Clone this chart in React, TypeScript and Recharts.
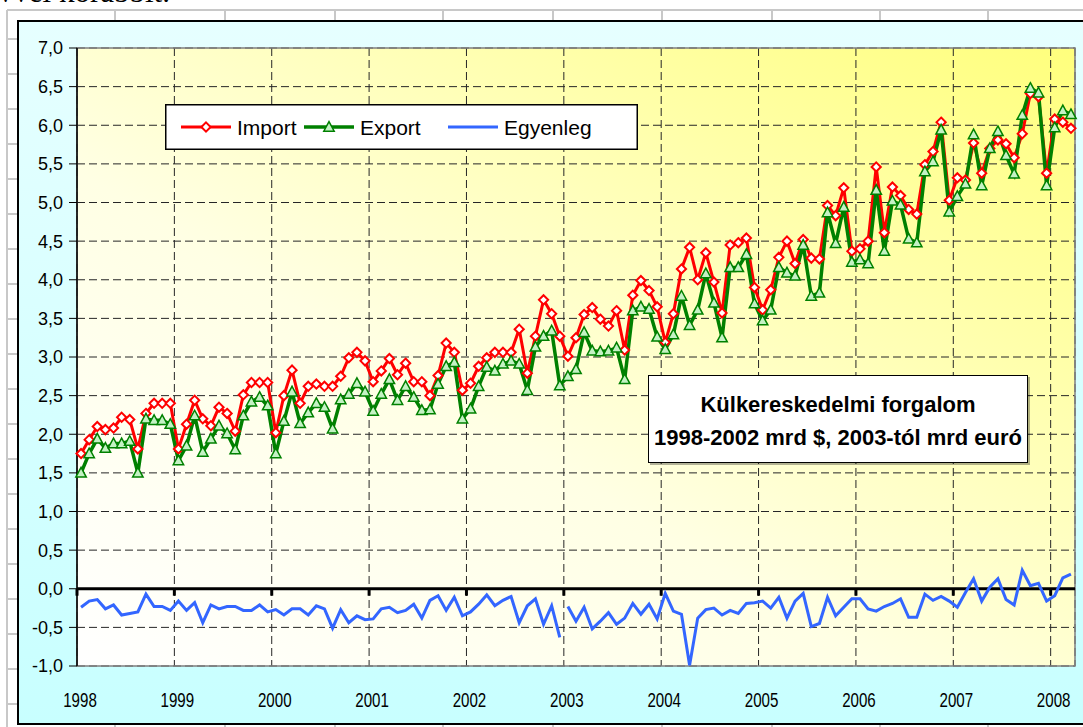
import React from 'react';
import {
  LineChart,
  Line,
  XAxis,
  YAxis,
  CartesianGrid,
  ReferenceLine,
  ReferenceArea,
  Legend,
} from 'recharts';

// ---------- data (monthly, Jan 1998 - Mar 2008) ----------
const yearLabels = ['1998', '1999', '2000', '2001', '2002', '2003', '2004', '2005', '2006', '2007', '2008'];

const importVals = [
  1.75, 1.93, 2.10, 2.06, 2.08, 2.22, 2.19, 1.81, 2.27, 2.40, 2.40, 2.40,
  1.81, 2.13, 2.44, 2.20, 2.11, 2.35, 2.27, 2.04, 2.51, 2.67, 2.67, 2.67,
  2.02, 2.50, 2.83, 2.40, 2.62, 2.65, 2.62, 2.62, 2.75, 2.99, 3.06, 2.95,
  2.68, 2.82, 2.98, 2.77, 2.92, 2.68, 2.68, 2.50, 2.76, 3.18, 3.06, 2.57,
  2.66, 2.88, 2.99, 3.06, 3.06, 3.06, 3.36, 2.79, 3.27, 3.74, 3.56, 3.27,
  3.01, 3.25, 3.55, 3.64, 3.49, 3.40, 3.60, 3.09, 3.80, 3.99, 3.86, 3.65,
  3.19, 3.56, 4.14, 4.42, 4.00, 4.35, 3.97, 3.57, 4.45, 4.48, 4.54, 3.90,
  3.61, 3.87, 4.29, 4.50, 4.21, 4.52, 4.28, 4.27, 4.96, 4.83, 5.19, 4.37,
  4.40, 4.50, 5.46, 4.61, 5.20, 5.09, 4.91, 4.85, 5.49, 5.66, 6.04, 5.03,
  5.32, 5.29, 5.77, 5.38, 5.70, 5.81, 5.76, 5.58, 5.89, 6.41, 6.37, 5.38,
  6.08, 6.04, 5.96,
];

const exportVals = [
  1.50, 1.75, 1.94, 1.82, 1.88, 1.88, 1.91, 1.50, 2.20, 2.18, 2.18, 2.13,
  1.66, 1.85, 2.24, 1.77, 1.94, 2.11, 2.01, 1.80, 2.24, 2.42, 2.48, 2.37,
  1.75, 2.17, 2.55, 2.14, 2.28, 2.40, 2.35, 2.07, 2.45, 2.52, 2.66, 2.55,
  2.30, 2.52, 2.71, 2.44, 2.62, 2.48, 2.31, 2.32, 2.65, 2.88, 2.93, 2.20,
  2.33, 2.62, 2.87, 2.82, 2.91, 2.95, 2.91, 2.57, 3.13, 3.27, 3.34, 2.63,
  2.75, 2.84, 3.32, 3.08, 3.07, 3.08, 3.12, 2.71, 3.60, 3.65, 3.62, 3.26,
  3.10, 3.29, 3.79, 3.41, 3.61, 4.08, 3.70, 3.25, 4.16, 4.16, 4.33, 3.69,
  3.47, 3.61, 4.16, 4.09, 4.05, 4.45, 3.79, 3.83, 4.87, 4.47, 4.94, 4.23,
  4.26, 4.21, 5.16, 4.37, 5.02, 4.97, 4.53, 4.48, 5.40, 5.53, 5.94, 4.88,
  5.08, 5.24, 5.88, 5.22, 5.70, 5.92, 5.61, 5.37, 6.13, 6.48, 6.42, 5.22,
  5.97, 6.19, 6.14,
];

const balanceVals = [
  -0.24, -0.16, -0.14, -0.26, -0.21, -0.34, -0.32, -0.30, -0.07, -0.23, -0.23, -0.28,
  -0.16, -0.28, -0.18, -0.44, -0.21, -0.26, -0.23, -0.23, -0.28, -0.28, -0.21, -0.30,
  -0.27, -0.34, -0.26, -0.26, -0.34, -0.22, -0.26, -0.51, -0.27, -0.44, -0.35, -0.40,
  -0.39, -0.26, -0.24, -0.31, -0.28, -0.20, -0.38, -0.15, -0.09, -0.28, -0.11, -0.35,
  -0.30, -0.20, -0.08, -0.22, -0.15, -0.10, -0.44, -0.22, -0.13, -0.46, -0.22, -0.63,
  -0.23, -0.42, -0.24, -0.52, -0.42, -0.31, -0.46, -0.38, -0.19, -0.33, -0.20, -0.39,
  -0.06, -0.29, -0.33, -0.99, -0.38, -0.27, -0.25, -0.34, -0.28, -0.32, -0.19, -0.18,
  -0.16, -0.25, -0.11, -0.38, -0.16, -0.06, -0.49, -0.45, -0.11, -0.35, -0.24, -0.13,
  -0.13, -0.26, -0.29, -0.23, -0.19, -0.13, -0.37, -0.37, -0.07, -0.15, -0.10, -0.16,
  -0.24, -0.05, 0.13, -0.16, 0.02, 0.13, -0.14, -0.21, 0.24, 0.04, 0.07, -0.16,
  -0.09, 0.14, 0.19,
];

// the balance series restarts in Jan 2003 (currency change $ -> euro)
const BREAK_INDEX = 60;
const MONTHS = importVals.length + 0;

const yTicks = [-1, -0.5, 0, 0.5, 1, 1.5, 2, 2.5, 3, 3.5, 4, 4.5, 5, 5.5, 6, 6.5, 7];
const xTicks = yearLabels.map((_, k) => k * 12);

const data = importVals.map((v, i) => ({
  x: i + 0.5,
  imp: v,
  exp: exportVals[i],
  egyA: i < BREAK_INDEX ? balanceVals[i] : null,
  egyB: i >= BREAK_INDEX ? balanceVals[i] : null,
}));

const FONT = '"Liberation Sans", Arial, Helvetica, sans-serif';

// ---------- markers ----------
const diamondPath = (cx: number, cy: number, r: number) =>
  `M${cx},${cy - r}L${cx + r},${cy}L${cx},${cy + r}L${cx - r},${cy}Z`;
const trianglePath = (cx: number, cy: number, s: number) =>
  `M${cx},${cy - s * 1.05}L${cx + s},${cy + s * 0.8}L${cx - s},${cy + s * 0.8}Z`;

const DiamondDot = (props: any) => {
  const { cx, cy, index } = props;
  if (cx == null || cy == null) return <g key={`dm${index}`} />;
  return (
    <path key={`dm${index}`} d={diamondPath(cx, cy, 4.6)} fill="#ffffff" stroke="#ff0000" strokeWidth={2} />
  );
};

const TriangleDot = (props: any) => {
  const { cx, cy, index } = props;
  if (cx == null || cy == null) return <g key={`tr${index}`} />;
  return (
    <path key={`tr${index}`} d={trianglePath(cx, cy, 5.2)} fill="#c4f2c4" stroke="#008000" strokeWidth={1.5} />
  );
};

// ---------- axis ticks ----------
const XTick = (props: any) => {
  const { x, y, payload } = props;
  const label = yearLabels[Math.round(payload.value / 12)];
  return (
    <text
      x={0}
      y={0}
      transform={`translate(${x + 3},${y + 41}) scale(0.72,1)`}
      textAnchor="middle"
      fontSize={21}
      fontFamily={FONT}
      fill="#000"
    >
      {label}
    </text>
  );
};

const fmtY = (v: number) => v.toFixed(1).replace('.', ',');

// ---------- legend ----------
const legendItems = [
  { name: 'Import', color: '#ff0000', width: 3, marker: 'diamond', x: 16 },
  { name: 'Export', color: '#008000', width: 3.5, marker: 'triangle', x: 139 },
  { name: 'Egyenleg', color: '#3366ff', width: 3, marker: 'none', x: 283 },
];

const LegendBox = () => (
  <svg width={473} height={46} style={{ display: 'block' }}>
    <rect x={0.75} y={0.75} width={471.5} height={44.5} fill="#ffffff" stroke="#000" strokeWidth={1.5} />
    {legendItems.map((it) => (
      <g key={it.name}>
        <line x1={it.x} x2={it.x + 50} y1={23} y2={23} stroke={it.color} strokeWidth={it.width} />
        {it.marker === 'diamond' && (
          <path d={diamondPath(it.x + 25, 23, 4.6)} fill="#fff" stroke="#ff0000" strokeWidth={2} />
        )}
        {it.marker === 'triangle' && (
          <path d={trianglePath(it.x + 25, 23, 5.2)} fill="#c4f2c4" stroke="#008000" strokeWidth={1.5} />
        )}
        <text x={it.x + 56} y={30.5} fontSize={21} fontFamily={FONT} fill="#000">
          {it.name}
        </text>
      </g>
    ))}
  </svg>
);

// ---------- background sheet (Excel-like grid) ----------
const colLines = [7, 115, 225, 335, 443, 553, 662, 772, 880, 988];
const rowLines = [10, 39, 74, 109, 144, 179, 214, 249, 284, 319, 354, 389, 424, 459, 494, 529, 564, 599, 634, 669, 704];

export default function App() {
  return (
    <div
      style={{
        position: 'absolute',
        left: 0,
        top: 0,
        width: 1083,
        height: 727,
        overflow: 'hidden',
        background: '#ffffff',
        fontFamily: FONT,
      }}
    >
      {/* text of the document above the chart, cut off as in the source */}
      <div
        style={{
          position: 'absolute',
          left: -16,
          top: -24,
          fontFamily: '"Liberation Serif", "Times New Roman", serif',
          fontSize: 31,
          lineHeight: '31px',
          whiteSpace: 'nowrap',
          color: '#000',
        }}
      >
        évvel korábbit.
      </div>

      {colLines.map((x) => (
        <div key={`c${x}`} style={{ position: 'absolute', left: x - 1, top: 10, width: 2, height: 727, background: '#c8c8c8' }} />
      ))}
      {rowLines.map((y) => (
        <div key={`r${y}`} style={{ position: 'absolute', left: 7, top: y - 1, width: 1083, height: 2, background: '#c8c8c8' }} />
      ))}

      {/* chart object */}
      <div
        style={{
          position: 'absolute',
          left: 17,
          top: 20,
          width: 1090,
          height: 701,
          border: '2px solid #000',
          background: 'linear-gradient(to bottom, #e6ffff 0%, #d4ffff 60%, #c8ffff 100%)',
        }}
      >
        <LineChart
          width={1064}
          height={699}
          data={data}
          margin={{ top: 26, right: 8, bottom: 0, left: 0 }}
        >
          <defs>
            <linearGradient id="plotBg" x1="0" y1="1" x2="1" y2="0">
              <stop offset="0%" stopColor="#ffffff" />
              <stop offset="40%" stopColor="#ffffe4" />
              <stop offset="100%" stopColor="#ffff7c" />
            </linearGradient>
          </defs>
          <CartesianGrid stroke="#262626" strokeDasharray="8 4" fill="url(#plotBg)" fillOpacity={1} />
          <XAxis
            type="number"
            dataKey="x"
            domain={[0, MONTHS]}
            ticks={xTicks}
            interval={0}
            tick={XTick}
            tickLine={false}
            axisLine={false}
            tickSize={0}
            tickMargin={0}
            height={55}
          />
          <YAxis
            type="number"
            domain={[-1, 7]}
            ticks={yTicks}
            interval={0}
            tickFormatter={fmtY}
            width={58}
            tick={{ fontSize: 18, fill: '#000', fontFamily: FONT }}
            tickLine={{ stroke: '#000', strokeWidth: 1 }}
            tickSize={8}
            tickMargin={6}
            axisLine={{ stroke: '#000', strokeWidth: 1.5 }}
            allowDataOverflow
          />
          <ReferenceArea x1={0} x2={MONTHS} y1={-1} y2={7} fill="none" fillOpacity={0} stroke="#808080" strokeWidth={1.5} />
          <ReferenceLine y={0} stroke="#000" strokeWidth={3} />
          {xTicks.map((t) => (
            <ReferenceLine
              key={`zt${t}`}
              segment={[
                { x: t, y: 0 },
                { x: t, y: -0.09 },
              ]}
              stroke="#000"
              strokeWidth={3}
            />
          ))}
          <Line
            type="linear"
            dataKey="imp"
            name="Import"
            stroke="#ff0000"
            strokeWidth={3}
            dot={DiamondDot}
            activeDot={false}
            isAnimationActive={false}
          />
          <Line
            type="linear"
            dataKey="exp"
            name="Export"
            stroke="#008000"
            strokeWidth={3.5}
            dot={TriangleDot}
            activeDot={false}
            isAnimationActive={false}
          />
          <Line
            type="linear"
            dataKey="egyA"
            name="Egyenleg"
            stroke="#3366ff"
            strokeWidth={3}
            dot={false}
            activeDot={false}
            isAnimationActive={false}
          />
          <Line
            type="linear"
            dataKey="egyB"
            name="Egyenleg "
            stroke="#3366ff"
            strokeWidth={3}
            dot={false}
            activeDot={false}
            isAnimationActive={false}
            legendType="none"
          />
          <Legend
            layout="vertical"
            align="center"
            verticalAlign="middle"
            wrapperStyle={{ left: 146, top: 82, width: 473, height: 46 }}
            content={() => <LegendBox />}
          />
        </LineChart>
      </div>

      {/* title box */}
      <div
        style={{
          position: 'absolute',
          left: 648,
          top: 375,
          width: 380,
          height: 88,
          boxSizing: 'border-box',
          border: '1.5px solid #000',
          background: '#ffffff',
          boxShadow: '2px 2px 0 rgba(0,0,0,0.3)',
          textAlign: 'center',
          fontWeight: 'bold',
          fontSize: 22,
          lineHeight: '33px',
          paddingTop: 12,
          color: '#000',
          whiteSpace: 'nowrap',
        }}
      >
        <div>Külkereskedelmi forgalom</div>
        <div>1998-2002 mrd $, 2003-tól mrd euró</div>
      </div>
    </div>
  );
}
